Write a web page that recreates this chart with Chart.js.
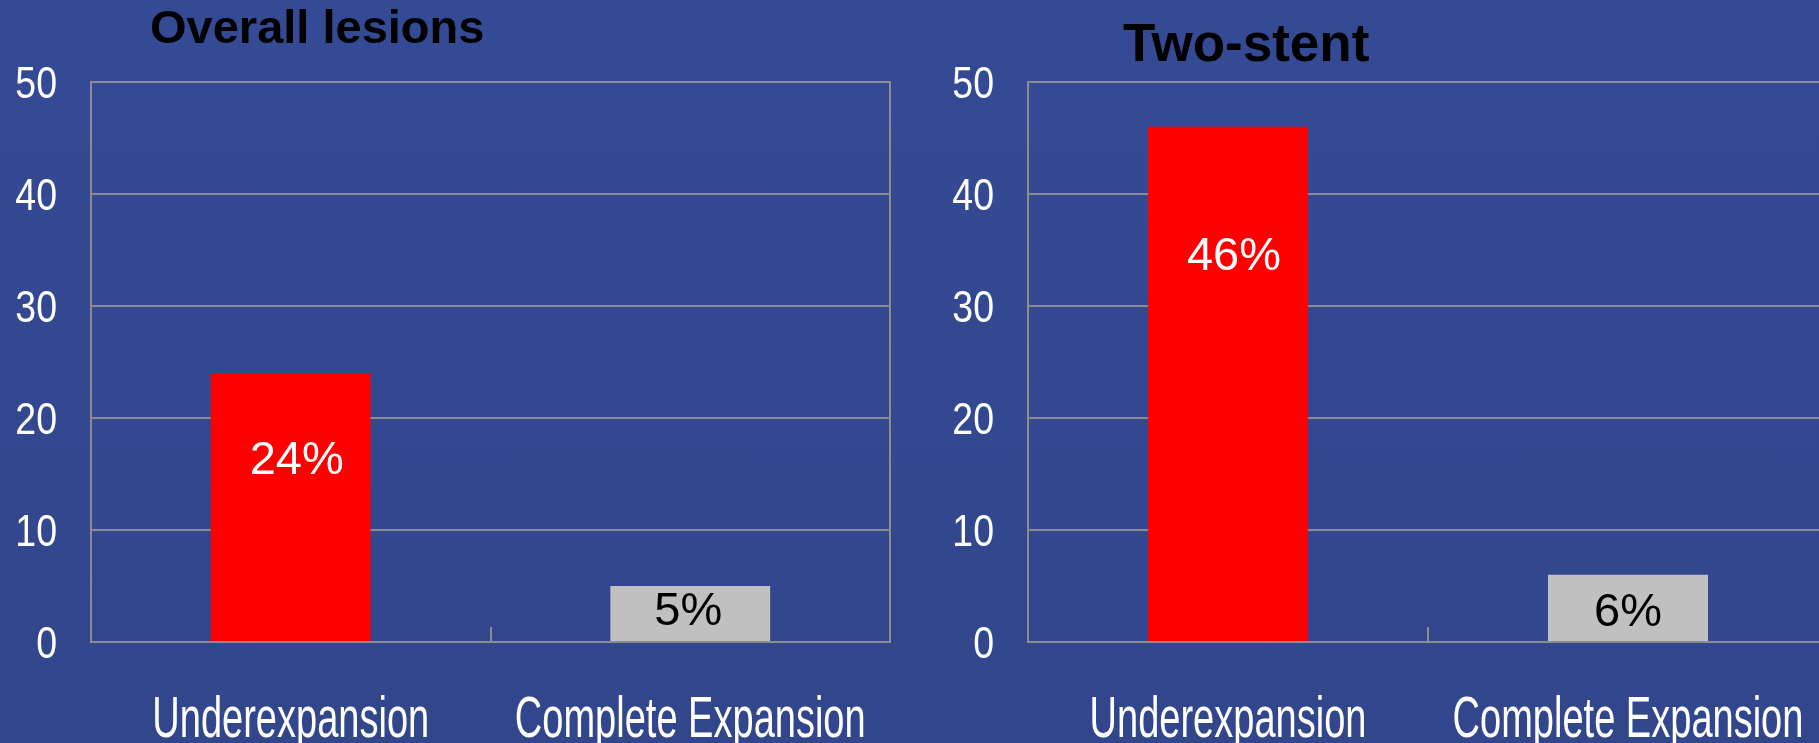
<!DOCTYPE html>
<html>
<head>
<meta charset="utf-8">
<script src="https://cdn.jsdelivr.net/npm/chart.js@4"></script>
<style>
  html, body { margin: 0; padding: 0; }
  body {
    width: 1819px;
    height: 743px;
    overflow: hidden;
    position: relative;
    background: linear-gradient(#354a95, #32468c);
  }
  canvas { position: absolute; top: 0; }
  #overall { left: 0; }
  #twostent { left: 937px; }
</style>
</head>
<body>
<canvas id="overall" width="894" height="743"></canvas>
<canvas id="twostent" width="895" height="743"></canvas>
<script>
// values
let categories = ["Underexpansion", "Complete Expansion"];
let overallValues = [24, 5];
let twoStentValues = [46, 6];
let yTickLabels = [0, 10, 20, 30, 40, 50];

let gridColor = "#8c8c8c";
let barColors = ["#ff0000", "#c0c0c0"];
let valueColors = ["#ffffff", "#000000"];
let plain = '"Liberation Sans", Arial, sans-serif';

// no narrow font installed, so squeeze text horizontally instead
function squeezed(ctx, text, x, y, sx) {
  ctx.save();
  ctx.translate(x, y);
  ctx.scale(sx, 1);
  ctx.fillText(text, 0, 0);
  ctx.restore();
}

// draws the slide bits chart.js has no option for:
// title, % labels, right frame edge, inner tick, condensed axis labels
let slidePlugin = {
  id: "slide",
  afterDraw(chart, args, opts) {
    let ctx = chart.ctx;
    let area = chart.chartArea;
    let xs = chart.scales.x;
    let ys = chart.scales.y;
    ctx.save();

    // right edge of the frame and the small tick between categories
    ctx.strokeStyle = gridColor;
    ctx.lineWidth = 2;
    ctx.beginPath();
    ctx.moveTo(Math.round(area.right), area.top - 1);
    ctx.lineTo(Math.round(area.right), area.bottom + 1);
    for (let i = 0; i < categories.length - 1; i++) {
      let px = Math.round((xs.getPixelForValue(i) + xs.getPixelForValue(i + 1)) / 2);
      ctx.moveTo(px, area.bottom);
      ctx.lineTo(px, area.bottom - 15);
    }
    ctx.stroke();

    // title
    ctx.fillStyle = "#000";
    ctx.textAlign = "left";
    ctx.textBaseline = "alphabetic";
    ctx.font = "bold " + opts.titleSize + "px " + plain;
    ctx.fillText(opts.title, area.left + opts.titleDx, opts.titleY);

    // value labels inside the bars
    let meta = chart.getDatasetMeta(0);
    let values = chart.data.datasets[0].data;
    ctx.font = "47px " + plain;
    ctx.textAlign = "center";
    ctx.textBaseline = "middle";
    meta.data.forEach((bar, i) => {
      ctx.fillStyle = valueColors[i];
      ctx.fillText(values[i] + "%", bar.x + opts.labelDx[i], ys.getPixelForValue(opts.labelAt[i]));
    });

    // y tick labels, narrow
    ctx.fillStyle = "#fff";
    ctx.textAlign = "right";
    ctx.textBaseline = "alphabetic";
    ctx.font = "45px " + plain;
    ys.ticks.forEach(t => {
      squeezed(ctx, String(t.value), area.left - 34, ys.getPixelForValue(t.value) + 16, 0.833);
    });

    // category labels, narrow and tall
    ctx.textAlign = "center";
    ctx.font = "57px " + plain;
    categories.forEach((c, i) => {
      squeezed(ctx, c, xs.getPixelForValue(i), area.bottom + 95, 0.667);
    });
    ctx.restore();
  }
};

function makeChart(id, values, slide) {
  let ctx = document.getElementById(id).getContext("2d");
  return new Chart(ctx, {
    type: "bar",
    data: {
      labels: categories,
      datasets: [{
        data: values,
        backgroundColor: barColors,
        barPercentage: 0.4,
        categoryPercentage: 1.0
      }]
    },
    options: {
      responsive: false,
      animation: false,
      layout: { padding: { top: 82, right: 4, left: 0, bottom: 0 } },
      plugins: {
        legend: { display: false },
        tooltip: { enabled: false },
        slide: slide
      },
      scales: {
        x: {
          grid: { display: false },
          border: { color: gridColor, width: 2 },
          ticks: { display: false },
          afterFit: s => { s.height = 101; }
        },
        y: {
          min: yTickLabels[0],
          max: yTickLabels[yTickLabels.length - 1],
          ticks: {
            stepSize: yTickLabels[1] - yTickLabels[0],
            display: false
          },
          grid: { color: gridColor, lineWidth: 2, drawTicks: false },
          border: { color: gridColor, width: 2 },
          afterFit: s => { s.width = 91; }
        }
      }
    },
    plugins: [slidePlugin]
  });
}

makeChart("overall", overallValues, {
  title: "Overall lesions", titleSize: 47, titleDx: 59, titleY: 43,
  labelAt: [16.2, 2.68], labelDx: [6, -2]
});
makeChart("twostent", twoStentValues, {
  title: "Two-stent", titleSize: 53, titleDx: 95, titleY: 61,
  labelAt: [34.4, 2.6], labelDx: [6, 0]
});
</script>
</body>
</html>
